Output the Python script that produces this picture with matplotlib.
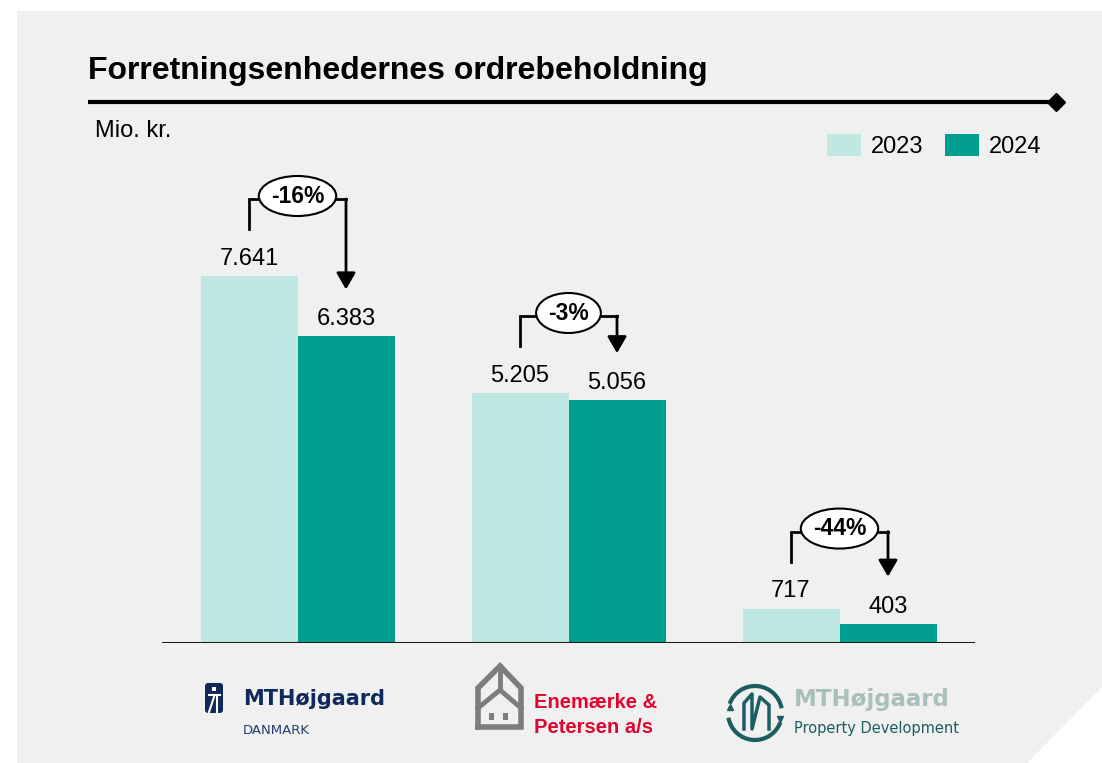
import matplotlib.pyplot as plt
import numpy as np
from matplotlib.patches import Polygon, FancyBboxPatch, Rectangle, Arc, Ellipse

# === Data ===
units = ["MTHøjgaard Danmark", "Enemærke & Petersen", "MTHøjgaard Property Development"]
years = ["2023", "2024"]
orders_2023 = [7641, 5205, 717]
orders_2024 = [6383, 5056, 403]

# === Style ===
plt.rcParams['font.family'] = ['Liberation Sans', 'DejaVu Sans']
LIGHT = "#c0e8e3"
DARK = "#009e8e"
PANEL = "#f0f0f0"

W, H = 1102, 763
fig = plt.figure(figsize=(W / 100, H / 100), dpi=100)
fig.patch.set_facecolor("white")

# background axes in pixel coords (y down)
bg = fig.add_axes([0, 0, 1, 1], zorder=0)
bg.set_xlim(0, W)
bg.set_ylim(H, 0)
bg.axis("off")
bg.add_patch(Polygon([(17, 11), (W, 11), (W, 687), (1027, H), (17, H)],
                     closed=True, fc=PANEL, ec="none"))

# title + rule
bg.text(88, 79, "Forretningsenhedernes ordrebeholdning", fontsize=23,
        fontweight="bold", va="baseline", ha="left")
bg.plot([88, 1050], [102, 102], color="black", lw=3, solid_capstyle="butt")
bg.plot([1056], [102], marker="D", color="black", markersize=9)
bg.text(95, 137, "Mio. kr.", fontsize=17, va="baseline", ha="left")

# === Chart axes ===
AX_L, AX_R, AX_T, AX_B = 162, 975, 120, 643
Y_SCALE = 0.04803  # px per mio. kr.
ymax = (AX_B - AX_T) / Y_SCALE
u = 1 / Y_SCALE  # data units per px
GROUP_PX = (AX_R - AX_L) / 3  # px per x data unit

ax = fig.add_axes([AX_L / W, (H - AX_B) / H, (AX_R - AX_L) / W, (AX_B - AX_T) / H],
                  zorder=1)
ax.patch.set_alpha(0)
ax.set_xlim(-0.5, 2.5)
ax.set_ylim(0, ymax)
for s in ax.spines.values():
    s.set_visible(False)
ax.set_xticks([])
ax.set_yticks([])

x = np.arange(len(units))
bw = 97 / GROUP_PX
ax.bar(x - bw / 2, orders_2023, bw, color=LIGHT, label=years[0])
ax.bar(x + bw / 2, orders_2024, bw, color=DARK, label=years[1])
ax.axhline(0, color="#1a1a1a", lw=2.2)

def fmt(v):
    return f"{v:,}".replace(",", ".")

renderer = fig.canvas.get_renderer()

for i in range(len(units)):
    for xx, v in [(x[i] - bw / 2, orders_2023[i]), (x[i] + bw / 2, orders_2024[i])]:
        ax.annotate(fmt(v), (xx, v), xytext=(0, 8), textcoords="offset points",
                    ha="center", va="baseline", fontsize=17)

    # change bracket
    x1, x2 = x[i] - bw / 2, x[i] + bw / 2
    top = orders_2023[i] + 77 * u
    ax.plot([x1, x1, x2], [orders_2023[i] + 47 * u, top, top], color="black",
            lw=2, solid_joinstyle="miter", solid_capstyle="projecting")
    ax.annotate("", xy=(x2, orders_2024[i] + 47 * u), xytext=(x2, top),
                arrowprops=dict(arrowstyle="-|>,head_length=0.5,head_width=0.29",
                                mutation_scale=20, lw=2, color="black",
                                shrinkA=0, shrinkB=0))
    pct = round((orders_2024[i] / orders_2023[i] - 1) * 100)
    t = ax.text(x[i], top + 3 * u, f"{pct}%", ha="center", va="center",
                fontsize=16.5, fontweight="bold", zorder=6)
    tw = t.get_window_extent(renderer).width
    ax.add_patch(Ellipse((x[i], top + 3 * u), (tw + 24) / GROUP_PX, 40 * u,
                         fc="white", ec="black", lw=1.5, zorder=5))

ax.legend(loc="center left", bbox_to_anchor=(827 / W, 1 - 146 / H),
          bbox_transform=fig.transFigure, ncol=2, frameon=False,
          fontsize=17, handlelength=1.45, handleheight=1.1,
          handletextpad=0.42, columnspacing=0.9, borderpad=0,
          borderaxespad=0)

# === Logos (simple drawings + real text) ===
NAVY = "#10295a"
# MTHøjgaard Danmark
bg.add_patch(FancyBboxPatch((205, 683), 18, 30, boxstyle="round,pad=0,rounding_size=3",
                            fc=NAVY, ec="none"))
bg.add_patch(Rectangle((212, 687), 4, 4, fc="white", ec="none"))
bg.plot([209, 220], [695, 695], color="white", lw=1.5)
bg.plot([214, 209], [697, 712], color="white", lw=1.5)
bg.plot([217, 217], [697, 712], color="white", lw=1.5)
bg.text(243, 705, "MTHøjgaard", family="DejaVu Sans", fontweight="bold",
        fontsize=15, color=NAVY, va="baseline")
bg.text(243, 734, "DANMARK", family="DejaVu Sans", fontsize=9.5,
        color="#24406f", va="baseline")

# Enemærke & Petersen
GRAY = "#7b7e80"
bg.plot([478, 478, 500, 521, 521, 478], [727, 688, 666, 688, 727, 727],
        color=GRAY, lw=4, solid_joinstyle="miter")
bg.plot([478, 500, 521], [708, 690, 708], color=GRAY, lw=3.5)
bg.plot([500, 500], [666, 690], color=GRAY, lw=3.5)
bg.add_patch(Rectangle((489, 713), 5, 7, fc=GRAY, ec="none"))
bg.add_patch(Rectangle((503, 713), 5, 7, fc=GRAY, ec="none"))
bg.text(534, 708, "Enemærke &", fontsize=14.5, fontweight="bold",
        color="#e4032e", va="baseline")
bg.text(534, 733, "Petersen a/s", fontsize=14.5, fontweight="bold",
        color="#e4032e", va="baseline")

# MTHøjgaard Property Development
TEAL = "#1b5d61"
bg.add_patch(Arc((755, 713), 54, 54, theta1=20, theta2=170, color=TEAL, lw=3))
bg.add_patch(Arc((755, 713), 54, 54, theta1=200, theta2=350, color=TEAL, lw=3))
bg.plot([744, 744, 752, 752, 760, 769, 769], [729, 703, 694, 729, 697, 705, 729],
        color=TEAL, lw=2.5)
bg.plot([780], [719], marker="v", color=TEAL, markersize=5)
bg.plot([730], [707], marker="^", color=TEAL, markersize=5)
bg.text(794, 706, "MTHøjgaard", family="DejaVu Sans", fontweight="bold",
        fontsize=16.5, color="#a9bfbc", va="baseline")
bg.text(794, 733, "Property Development", family="DejaVu Sans", fontsize=10.5,
        color=TEAL, va="baseline")

plt.savefig("out.png", dpi=100, facecolor=fig.get_facecolor())
plt.close()
